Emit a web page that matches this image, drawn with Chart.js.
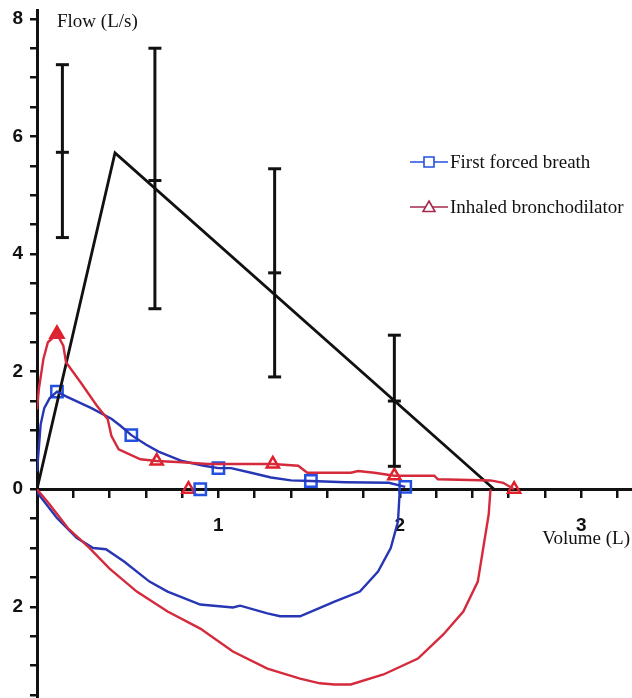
<!DOCTYPE html>
<html>
<head>
<meta charset="utf-8">
<script src="https://cdn.jsdelivr.net/npm/chart.js@4.4.1/dist/chart.umd.min.js"></script>
<style>
  html, body { margin: 0; padding: 0; background: #fff; }
  #wrap { width: 632px; height: 698px; }
</style>
</head>
<body>
<div id="wrap"><canvas id="c" width="632" height="698"></canvas></div>
<script>
// predicted curve (black)
const predVol  = [0, 0.43, 2.52];
const predFlow = [0, 5.72, 0];

// error bars: volume, mean, low, high
const errVol  = [0.14, 0.65, 1.31, 1.97];
const errMean = [5.73, 5.25, 3.68, 1.50];
const errLow  = [4.28, 3.07, 1.91, 0.39];
const errHigh = [7.22, 7.50, 5.45, 2.62];

// first forced breath - expiration
const blueExpVol  = [0.00, 0.02, 0.04, 0.07, 0.11, 0.16, 0.30, 0.41, 0.46, 0.52, 0.60, 0.67, 0.80, 0.92, 1.00, 1.07, 1.18, 1.29, 1.40, 1.51, 1.70, 1.94, 2.03];
const blueExpFlow = [0.30, 1.10, 1.38, 1.55, 1.66, 1.58, 1.38, 1.20, 1.08, 0.92, 0.76, 0.64, 0.48, 0.40, 0.36, 0.36, 0.28, 0.20, 0.15, 0.14, 0.12, 0.11, 0.04];
// first forced breath - inspiration
const blueInspVol  = [2.00, 1.99, 1.95, 1.88, 1.78, 1.64, 1.55, 1.45, 1.34, 1.27, 1.12, 1.08, 0.90, 0.72, 0.62, 0.48, 0.38, 0.31, 0.22, 0.11, 0.00];
const blueInspFlow = [0.00, -0.55, -1.00, -1.40, -1.74, -1.91, -2.03, -2.16, -2.16, -2.11, -1.98, -2.01, -1.96, -1.74, -1.57, -1.23, -1.02, -1.00, -0.83, -0.49, -0.05];

// inhaled bronchodilator - expiration
const redExpVol  = [0.00, 0.01, 0.035, 0.06, 0.11, 0.145, 0.16, 0.24, 0.33, 0.39, 0.41, 0.45, 0.57, 0.66, 0.80, 0.94, 1.07, 1.30, 1.44, 1.49, 1.73, 1.77, 1.86, 1.97, 2.19, 2.21, 2.50, 2.57, 2.63];
const redExpFlow = [1.36, 1.70, 2.21, 2.50, 2.64, 2.44, 2.16, 1.82, 1.42, 1.19, 0.91, 0.68, 0.51, 0.48, 0.46, 0.43, 0.43, 0.43, 0.40, 0.28, 0.28, 0.31, 0.28, 0.23, 0.23, 0.17, 0.15, 0.11, 0.00];
// inhaled bronchodilator - inspiration
const redInspVol  = [2.50, 2.49, 2.46, 2.43, 2.35, 2.24, 2.10, 1.91, 1.73, 1.64, 1.56, 1.45, 1.27, 1.08, 0.90, 0.72, 0.55, 0.40, 0.29, 0.17, 0.07, 0.00];
const redInspFlow = [0.00, -0.43, -1.00, -1.57, -2.08, -2.47, -2.88, -3.15, -3.32, -3.32, -3.30, -3.22, -3.05, -2.76, -2.37, -2.08, -1.74, -1.35, -1.00, -0.66, -0.26, 0.00];

// markers
const blueMarkVol  = [0.11, 0.52, 1.00, 1.51, 2.03, 0.90];
const blueMarkFlow = [1.66, 0.92, 0.36, 0.14, 0.04, 0.00];
const redMarkVol   = [0.66, 1.30, 1.97, 2.63, 0.835];
const redMarkFlow  = [0.48, 0.43, 0.23, 0.00, 0.00];
const redPeakVol   = [0.11];
const redPeakFlow  = [2.64];

const legendLabels = ['First forced breath', 'Inhaled bronchodilator'];
const xTitle = 'Volume (L)';
const yTitle = 'Flow (L/s)';

const BLUE = '#2636b4';
const BLUE_MARK = '#2350e0';
const RED = '#d42a3c';
const RED_MARK = '#e0202c';
const LEG_RED = '#a32a4c';

function pts(xs, ys) {
  return xs.map((x, i) => ({ x: x, y: ys[i] }));
}

function near(v, step) {
  return Math.abs(v / step - Math.round(v / step)) < 1e-6;
}

// error bar stems as one line dataset with gaps
const stemPts = [];
const capPts = [];
errVol.forEach((v, i) => {
  stemPts.push({ x: v, y: errLow[i] }, { x: v, y: errHigh[i] }, { x: v, y: null });
  capPts.push({ x: v, y: errLow[i] }, { x: v, y: errMean[i] }, { x: v, y: errHigh[i] });
});

const lineDs = (data, color, w) => ({
  data: data, showLine: true, borderColor: color, borderWidth: w,
  pointRadius: 0, tension: 0, fill: false, spanGaps: false
});

const overlay = {
  id: 'overlay',
  afterDraw(chart) {
    const ctx = chart.ctx;
    ctx.save();
    ctx.fillStyle = '#111';
    ctx.font = '19px "Liberation Serif", "Times New Roman", serif';
    ctx.textBaseline = 'middle';
    ctx.textAlign = 'left';
    ctx.fillText(yTitle, 57, 22);
    ctx.textAlign = 'right';
    ctx.fillText(xTitle, 630, 539);

    // legend
    const rows = [
      { y: 162, color: BLUE_MARK, style: 'rect' },
      { y: 207, color: LEG_RED, style: 'triangle' }
    ];
    rows.forEach((row, i) => {
      ctx.strokeStyle = row.color;
      ctx.lineWidth = 1.6;
      ctx.beginPath();
      ctx.moveTo(410, row.y);
      ctx.lineTo(448, row.y);
      ctx.stroke();
      ctx.fillStyle = '#fff';
      ctx.beginPath();
      if (row.style === 'rect') {
        ctx.rect(424, row.y - 5, 10, 10);
      } else {
        ctx.moveTo(429, row.y - 6);
        ctx.lineTo(435, row.y + 4.5);
        ctx.lineTo(423, row.y + 4.5);
        ctx.closePath();
      }
      ctx.fill();
      ctx.stroke();
      ctx.fillStyle = '#111';
      ctx.textAlign = 'left';
      ctx.fillText(legendLabels[i], 450, row.y + 1);
    });
    ctx.restore();
  }
};

new Chart(document.getElementById('c'), {
  type: 'scatter',
  data: {
    datasets: [
      lineDs(pts(redInspVol, redInspFlow), RED, 2.4),
      lineDs(pts(blueInspVol, blueInspFlow), BLUE, 2.4),
      lineDs(pts(redExpVol, redExpFlow), RED, 2.4),
      lineDs(pts(blueExpVol, blueExpFlow), BLUE, 2.4),
      lineDs(pts(predVol, predFlow), '#111', 2.8),
      lineDs(stemPts, '#111', 3),
      {
        data: capPts, showLine: false, pointStyle: 'line', pointRadius: 6.5,
        borderColor: '#111', borderWidth: 3, pointHoverRadius: 6.5
      },
      {
        data: pts(blueMarkVol, blueMarkFlow), showLine: false, pointStyle: 'rect',
        pointRadius: 8, borderColor: BLUE_MARK, backgroundColor: 'rgba(255,255,255,0)', borderWidth: 2.5
      },
      {
        data: pts(redMarkVol, redMarkFlow), showLine: false, pointStyle: 'triangle',
        pointRadius: 7, borderColor: RED_MARK, backgroundColor: 'rgba(255,255,255,0)', borderWidth: 2.5
      },
      {
        data: pts(redPeakVol, redPeakFlow), showLine: false, pointStyle: 'triangle',
        pointRadius: 8, borderColor: RED_MARK, backgroundColor: RED_MARK, borderWidth: 2
      }
    ]
  },
  options: {
    responsive: false,
    animation: false,
    events: [],
    layout: { autoPadding: false, padding: { top: 10, right: 0, bottom: 0, left: 0 } },
    plugins: { legend: { display: false }, tooltip: { enabled: false } },
    scales: {
      x: {
        type: 'linear',
        min: 0, max: 3.28,
        position: { y: 0 },
        border: { display: true, color: '#111', width: 3 },
        grid: { drawOnChartArea: false, drawTicks: true, tickLength: 7, color: '#111', lineWidth: 2.5 },
        afterFit: (s) => { s.height = 0; s.paddingLeft = 0; s.paddingRight = 0; },
        afterBuildTicks: (s) => {
          s.ticks = s.ticks.filter(t => near(t.value, 0.2) && t.value > 0);
        },
        ticks: {
          stepSize: 0.2,
          includeBounds: false,
          autoSkip: false,
          maxRotation: 0,
          padding: 18,
          color: '#111',
          font: { family: '"Liberation Sans", Arial, sans-serif', size: 19, weight: 'bold' },
          callback: (v) => near(v, 1) ? String(Math.round(v)) : ''
        }
      },
      y: {
        type: 'linear',
        min: -3.55, max: 8.15,
        position: 'left',
        border: { display: true, color: '#111', width: 3 },
        grid: { drawOnChartArea: false, drawTicks: true, tickLength: 7, color: '#111', lineWidth: 2.5 },
        afterFit: (s) => { s.width = 37; s.paddingTop = 0; s.paddingBottom = 0; },
        afterBuildTicks: (s) => {
          s.ticks = s.ticks.filter(t => near(t.value, 0.5));
        },
        ticks: {
          stepSize: 0.5,
          includeBounds: false,
          autoSkip: false,
          padding: 7,
          color: '#111',
          font: { family: '"Liberation Sans", Arial, sans-serif', size: 19, weight: 'bold' },
          callback: (v) => near(v, 2) ? String(Math.abs(Math.round(v))) : ''
        }
      }
    }
  },
  plugins: [overlay]
});
</script>
</body>
</html>
